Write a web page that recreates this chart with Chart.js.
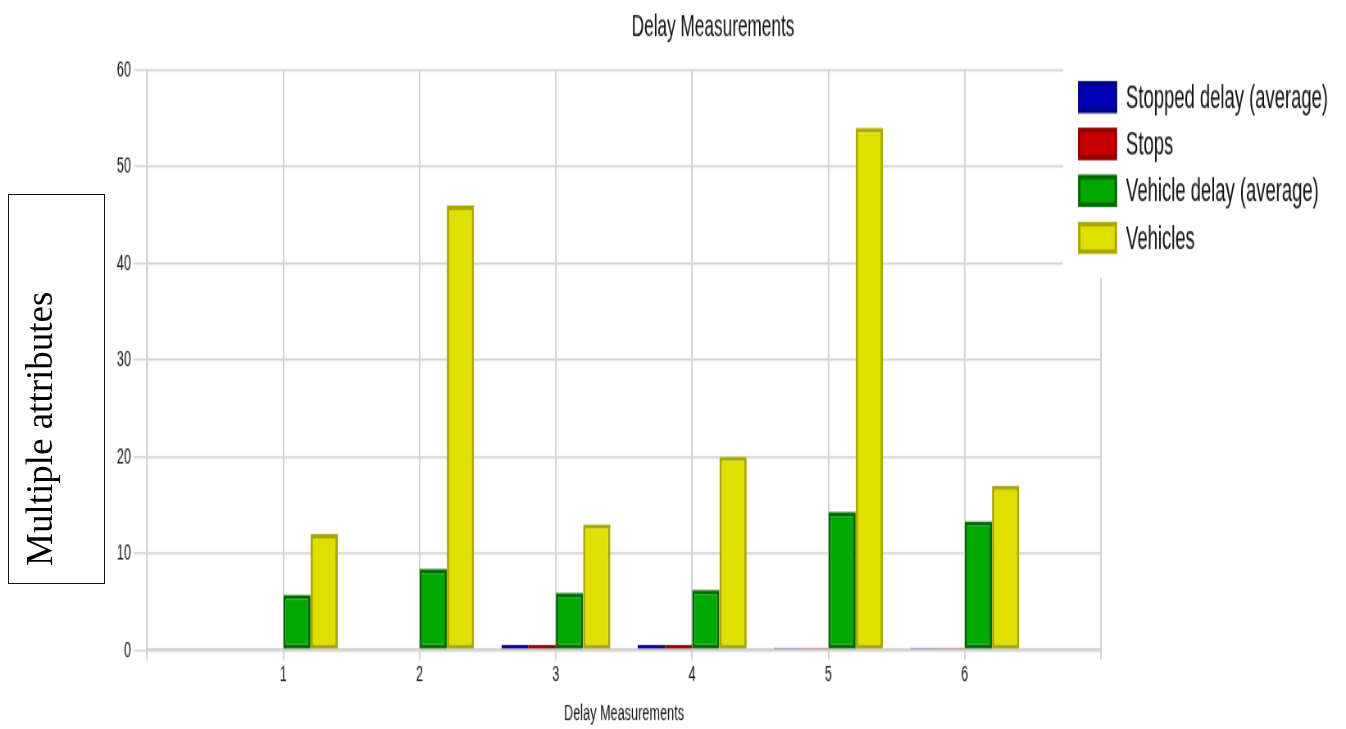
<!DOCTYPE html>
<html>
<head>
<meta charset="utf-8">
<title>Delay Measurements</title>
<script src="https://cdn.jsdelivr.net/npm/chart.js@4.4.1/dist/chart.umd.min.js"></script>
<style>
  html, body { margin: 0; padding: 0; background: #fff; }
  #wrap { position: relative; width: 1346px; height: 729px; overflow: hidden; }
  #axis-box {
    position: absolute; left: 8px; top: 194px; width: 97px; height: 390px;
    border: 1.5px solid #111; box-sizing: border-box;
  }
  #axis-label {
    position: absolute; left: 21px; top: 566px;
    font: 37px "Liberation Serif", "Times New Roman", serif; line-height: 1;
    color: #000; white-space: nowrap;
    transform: rotate(-90deg); transform-origin: left top;
  }
</style>
</head>
<body>
<div id="wrap">
  <!-- canvas is drawn at 1642x486 and squeezed/stretched to 1346x729,
       which gives the narrow, tall lettering -->
  <canvas id="chart" width="1642" height="486" style="display:block;width:1346px;height:729px"></canvas>
  <div id="axis-box"></div>
  <div id="axis-label">Multiple attributes</div>
</div>
<script>
// Measurement numbers along the x axis
const measurements = ["1", "2", "3", "4", "5", "6"];

// Series values per measurement
const stoppedDelay = [0, 0, 0.5, 0.5, 0.25, 0.25];
const stops = [0, 0, 0.5, 0.5, 0.25, 0.25];
const vehicleDelay = [5.7, 8.4, 5.9, 6.2, 14.3, 13.3];
const vehicles = [12, 46, 13, 20, 54, 17];

// Y axis ticks
const yMin = 0;
const yMax = 60;
const yStep = 10;

// canvas units per screen pixel, horizontally
const SX = 1642 / 1346;

const font = '"Liberation Sans", Arial, sans-serif';
const gridColor = "#d4d4d4";
const textColor = "#111";

// empty slot at both ends so the first group sits one step in from the axis
const labels = [""].concat(measurements, [""]);
function pad(values) {
  return [null].concat(values, [null]);
}

function series(label, values, fill, border) {
  return {
    label: label,
    data: pad(values),
    backgroundColor: fill,
    borderColor: border,
    borderWidth: 3,
    borderSkipped: false,
    categoryPercentage: 0.8,
    barPercentage: 1.0
  };
}

// Legend box drawn over the top right corner of the plot
const legendBox = {
  id: "legendBox",
  afterDraw(chart) {
    const ctx = chart.ctx;
    const boxX = 1078 * SX;
    const boxW = 39 * SX;
    const boxH = 21.3;
    ctx.save();
    ctx.fillStyle = "#fff";
    ctx.fillRect(1063 * SX, 38, 300 * SX, 147);
    ctx.font = "22.5px " + font;
    ctx.textBaseline = "middle";
    chart.data.datasets.forEach(function (ds, i) {
      const y = 54 + i * 31.3;
      ctx.fillStyle = ds.backgroundColor;
      ctx.fillRect(boxX, y, boxW, boxH);
      ctx.strokeStyle = ds.borderColor;
      ctx.lineWidth = 3;
      ctx.strokeRect(boxX + 1.5, y + 1.5, boxW - 3, boxH - 3);
      ctx.fillStyle = textColor;
      ctx.fillText(ds.label, 1126 * SX, y + 11.5);
    });
    ctx.restore();
  }
};

// Title sits a bit right of the canvas centre
const titleShift = {
  id: "titleShift",
  afterLayout(chart) {
    if (chart.titleBlock) {
      chart.titleBlock.left = 2 * 713 * SX - chart.width;
      chart.titleBlock.right = chart.width;
    }
  }
};

const ctx = document.getElementById("chart").getContext("2d");
const delayChart = new Chart(ctx, {
  type: "bar",
  data: {
    labels: labels,
    datasets: [
      series("Stopped delay (average)", stoppedDelay, "#0000b4", "#000080"),
      series("Stops", stops, "#c80000", "#8c0000"),
      series("Vehicle delay (average)", vehicleDelay, "#00a800", "#006a00"),
      series("Vehicles", vehicles, "#e0e000", "#a8a800")
    ]
  },
  options: {
    responsive: false,
    animation: false,
    devicePixelRatio: 1,
    layout: { padding: { left: 0, right: 1642 - 1101 * SX, top: 0, bottom: 0 } },
    plugins: {
      legend: { display: false },
      tooltip: { enabled: false },
      title: {
        display: true,
        text: "Delay Measurements",
        color: textColor,
        font: { family: font, size: 21, weight: "normal", lineHeight: 1.2 },
        padding: { top: 6, bottom: 15.5 }
      }
    },
    scales: {
      x: {
        offset: false,
        grid: { offset: false, color: gridColor, lineWidth: 2, tickLength: 7, tickColor: gridColor },
        border: { color: gridColor, width: 2 },
        ticks: {
          color: textColor,
          padding: 1.5,
          maxRotation: 0,
          autoSkip: false,
          font: { family: font, size: 15.5, lineHeight: 1 }
        },
        title: {
          display: true,
          text: "Delay Measurements",
          color: textColor,
          font: { family: font, size: 15.5, lineHeight: 1.2 },
          padding: { top: 0, bottom: 1 }
        },
        afterFit(scale) {
          scale.height = 486 - 433.3;
        }
      },
      y: {
        min: yMin,
        max: yMax,
        grid: { color: gridColor, lineWidth: 1.4, tickLength: 13 * SX, tickColor: gridColor },
        border: { color: gridColor, width: 1.4 },
        ticks: {
          stepSize: yStep,
          color: textColor,
          padding: 3 * SX,
          font: { family: font, size: 15.5, lineHeight: 1 }
        },
        afterFit(scale) {
          scale.width = 147 * SX;
        }
      }
    }
  },
  plugins: [legendBox, titleShift]
});
</script>
</body>
</html>
